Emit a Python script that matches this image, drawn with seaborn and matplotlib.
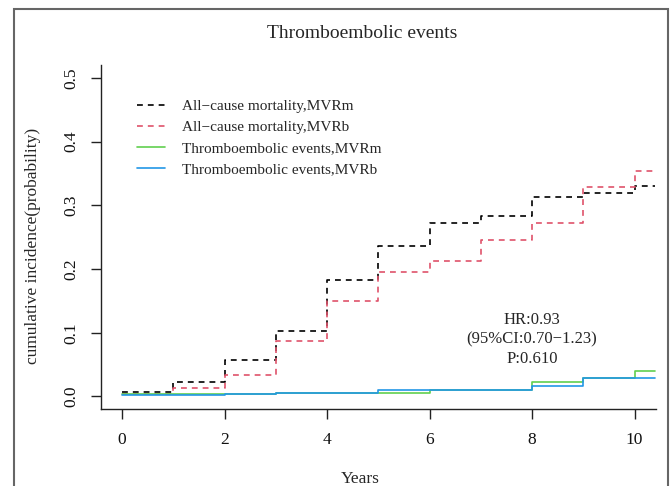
import matplotlib.pyplot as plt
import matplotlib.patches as mpatches
import seaborn as sns

# step-function cumulative incidence
years = [0, 1, 2, 3, 4, 5, 6, 7, 8, 9, 10, 10.4]
mort_mvrm = [0.007, 0.023, 0.057, 0.103, 0.183, 0.236, 0.273, 0.283, 0.313, 0.320, 0.331, 0.331]
mort_mvrb = [0.004, 0.013, 0.033, 0.087, 0.150, 0.196, 0.213, 0.246, 0.273, 0.328, 0.354, 0.354]
te_mvrm = [0.004, 0.004, 0.004, 0.006, 0.006, 0.006, 0.010, 0.010, 0.022, 0.029, 0.040, 0.040]
te_mvrb = [0.002, 0.002, 0.004, 0.006, 0.006, 0.010, 0.010, 0.010, 0.016, 0.029, 0.029, 0.029]

labels = [
    "All\u2212cause mortality,MVRm",
    "All\u2212cause mortality,MVRb",
    "Thromboembolic events,MVRm",
    "Thromboembolic events,MVRb",
]
colors = ["black", "#DF536B", "#61D04F", "#2297E6"]
x_ticks = [0, 2, 4, 6, 8, 10]
y_ticks = [0.0, 0.1, 0.2, 0.3, 0.4, 0.5]
annot = "HR:0.93\n(95%CI:0.70\u22121.23)\nP:0.610"

sns.set_style("ticks")
plt.rcParams["font.family"] = ["Liberation Serif", "DejaVu Serif"]

fig = plt.figure(figsize=(6.72, 4.86), dpi=100)
ax = fig.add_axes([0.150, 0.158, 0.826, 0.708])

series = [mort_mvrm, mort_mvrb, te_mvrm, te_mvrb]
styles = [(0, (3.5, 3)), (0, (3.5, 3)), "-", "-"]
for vals, lab, col, ls in zip(series, labels, colors, styles):
    sns.lineplot(x=years, y=vals, ax=ax, color=col, linestyle=ls,
                 linewidth=1.2, drawstyle="steps-post", label=lab)

ax.set_xlim(-0.416, 10.416)
ax.set_ylim(-0.02, 0.52)
ax.set_xticks(x_ticks)
ax.set_xticklabels([str(t) for t in x_ticks])
ax.set_yticks(y_ticks)
ax.set_yticklabels([f"{t:.1f}" for t in y_ticks], rotation=90, va="center")
ax.tick_params(axis="both", direction="out", length=7.2, width=1.0,
               labelsize=12.5, color="#222222", labelcolor="#111111")
ax.tick_params(axis="x", pad=9)
ax.tick_params(axis="y", pad=8)
ax.set_xlabel("")
ax.set_ylabel("")
for side in ["top", "right"]:
    ax.spines[side].set_visible(False)
for side in ["left", "bottom"]:
    ax.spines[side].set_color("#222222")
    ax.spines[side].set_linewidth(1.0)

ax.legend(loc="upper left", bbox_to_anchor=(137 / 672, 1 - 99.5 / 486),
          bbox_transform=fig.transFigure, frameon=False, fontsize=11,
          handlelength=1.85, handletextpad=1.1, labelspacing=0.48,
          borderpad=0, borderaxespad=0)

fig.text(362 / 672, 1 - 38 / 486, "Thromboembolic events", ha="center",
         va="baseline", fontsize=14)
fig.text(33 / 672, 1 - 246 / 486, "cumulative incidence(probability)",
         ha="center", va="center", rotation=90, fontsize=12.5)
fig.text(360 / 672, 1 - 483 / 486, "Years", ha="center", va="baseline",
         fontsize=12.5)
ax.text(532 / 672, 1 - 339.5 / 486, annot, transform=fig.transFigure,
        ha="center", va="center", fontsize=12, linespacing=1.32)

# grey frame around the whole figure
fig.patches.append(mpatches.Rectangle(
    (14 / 672, -0.05), (668 - 14) / 672, 1 - 9 / 486 + 0.05,
    transform=fig.transFigure, fill=False, edgecolor="#666666", linewidth=1.5))

fig.savefig("out.png", dpi=100)
